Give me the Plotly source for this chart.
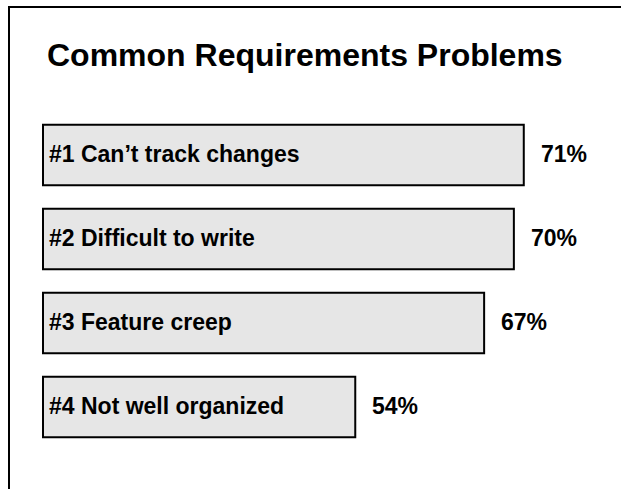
import plotly.graph_objects as go

# ---- data ----
categories = ["#1 Can\u2019t track changes", "#2 Difficult to write",
              "#3 Feature creep", "#4 Not well organized"]
percent = [71, 70, 67, 54]
value_labels = ["71%", "70%", "67%", "54%"]
title_text = "Common Requirements Problems"

# ---- layout constants ----
W, H = 621, 489
ML, MR, MT, MB = 38, 0, 113, 40
PW, PH = W - ML - MR, H - MT - MB
X_BASE = 22.5          # value axis start of the original chart
PX_PER_UNIT = 9.913
X_MIN = X_BASE - 5 / PX_PER_UNIT
X_MAX = X_MIN + PW / PX_PER_UNIT
FONT = "Liberation Sans, Arial, sans-serif"


def px_x(p):
    return (p - ML) / PW


def px_y(p):
    return 1 - (p - MT) / PH


fig = go.Figure()
fig.add_trace(go.Bar(
    y=categories,
    x=[v - X_BASE for v in percent],
    base=X_BASE,
    orientation="h",
    marker=dict(color="#E6E6E6", line=dict(color="black", width=2)),
    hoverinfo="skip",
    width=0.72,
))

annotations = []
for cat, v, lab in zip(categories, percent, value_labels):
    annotations.append(dict(
        x=X_BASE, y=cat, xref="x", yref="y", text="<b>%s</b>" % cat,
        showarrow=False, xanchor="left", yanchor="middle", xshift=4,
        yshift=1,
        font=dict(family=FONT, size=23, color="black")))
    annotations.append(dict(
        x=v, y=cat, xref="x", yref="y", text="<b>%s</b>" % lab,
        showarrow=False, xanchor="left", yanchor="middle", xshift=15,
        yshift=1,
        font=dict(family=FONT, size=23, color="black")))

annotations.append(dict(
    x=px_x(45), y=px_y(35), xref="paper", yref="paper",
    text="<b>%s</b>" % title_text, showarrow=False,
    xanchor="left", yanchor="top",
    font=dict(family=FONT, size=32, color="black")))

shapes = [
    dict(type="line", xref="paper", yref="paper",
         x0=px_x(8), x1=px_x(W + 2), y0=px_y(7), y1=px_y(7),
         line=dict(color="black", width=2)),
    dict(type="line", xref="paper", yref="paper",
         x0=px_x(9), x1=px_x(9), y0=px_y(7), y1=px_y(H + 2),
         line=dict(color="black", width=2)),
]

fig.update_layout(
    width=W, height=H,
    margin=dict(l=ML, r=MR, t=MT, b=MB, pad=0),
    paper_bgcolor="white", plot_bgcolor="white",
    showlegend=False,
    xaxis=dict(range=[X_MIN, X_MAX], visible=False, fixedrange=True),
    yaxis=dict(autorange="reversed", visible=False, fixedrange=True),
    annotations=annotations,
    shapes=shapes,
)

fig.write_html("out.html", include_plotlyjs=True,
               config={"displayModeBar": False},
               post_script="document.body.style.margin='0';"
                           "document.body.style.overflow='hidden';")
